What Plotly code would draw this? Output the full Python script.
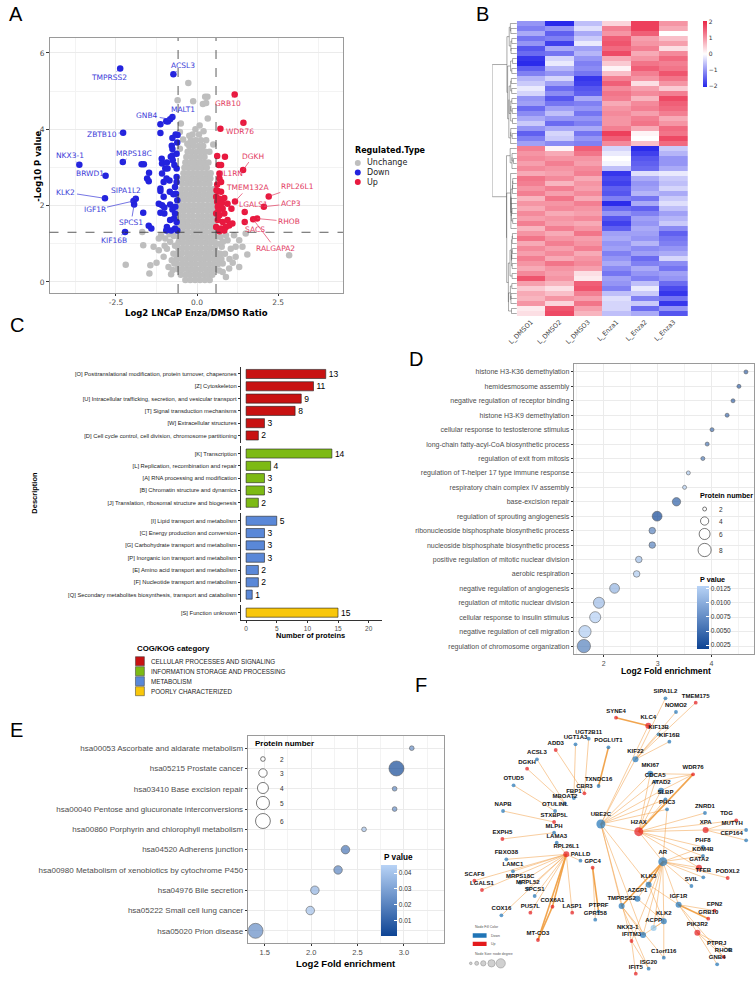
import numpy as np
import plotly.graph_objects as go

W, H = 756, 981
def X(px): return px / W
def Y(py): return 1 - py / H

ARIAL = "Liberation Sans, Arial, Helvetica, sans-serif"
DJV = "DejaVu Sans, sans-serif"
TICK = "#4D4D4D"

# ======================= A: volcano data =======================
gray_rows = [
    (0.05, [-0.36, -0.21, -0.06, 0.09, 0.24, 0.39]),
    (0.19, [-0.50, -0.35, -0.23, -0.08, 0.05, 0.21, 0.33, 0.47]),
    (0.33, [-0.59, -0.45, -0.29, -0.17, -0.03, 0.12, 0.27, 0.41, 0.55]),
    (0.47, [-0.61, -0.46, -0.33, -0.18, -0.05, 0.11, 0.23, 0.38, 0.52, 0.65]),
    (0.61, [-0.63, -0.49, -0.34, -0.21, -0.06, 0.08, 0.23, 0.36, 0.51, 0.64]),
    (0.75, [-0.60, -0.47, -0.31, -0.19, -0.04, 0.10, 0.25, 0.38, 0.53, 0.63]),
    (0.89, [-0.58, -0.44, -0.31, -0.16, -0.02, 0.12, 0.27, 0.40, 0.55]),
    (1.03, [-0.57, -0.43, -0.28, -0.15, -0.01, 0.14, 0.27, 0.42, 0.55]),
    (1.17, [-0.56, -0.42, -0.29, -0.14, 0.01, 0.14, 0.29, 0.42, 0.56]),
    (1.31, [-0.55, -0.41, -0.28, -0.13, 0.00, 0.15, 0.28, 0.43, 0.56]),
    (1.45, [-0.55, -0.42, -0.27, -0.14, 0.02, 0.15, 0.30, 0.43, 0.55]),
    (1.59, [-0.54, -0.40, -0.27, -0.12, 0.01, 0.16, 0.29, 0.44, 0.55]),
    (1.73, [-0.54, -0.41, -0.26, -0.13, 0.03, 0.16, 0.31, 0.44, 0.54]),
    (1.87, [-0.53, -0.40, -0.25, -0.12, 0.02, 0.17, 0.30, 0.45, 0.54]),
    (2.01, [-0.53, -0.39, -0.26, -0.11, 0.04, 0.17, 0.32, 0.45, 0.53]),
    (2.15, [-0.51, -0.38, -0.23, -0.10, 0.05, 0.18, 0.33, 0.46]),
    (2.29, [-0.50, -0.35, -0.22, -0.07, 0.06, 0.21, 0.34, 0.48]),
    (2.43, [-0.48, -0.34, -0.19, -0.06, 0.09, 0.22, 0.37, 0.50]),
    (2.57, [-0.46, -0.31, -0.18, -0.03, 0.10, 0.25, 0.38]),
    (2.71, [-0.44, -0.30, -0.15, -0.02, 0.13, 0.26, 0.41]),
    (2.85, [-0.42, -0.27, -0.14, 0.01, 0.14, 0.29, 0.42]),
    (2.99, [-0.39, -0.26, -0.11, 0.02, 0.17, 0.30]),
    (3.13, [-0.36, -0.21, -0.08, 0.07, 0.20, 0.35]),
    (3.27, [-0.33, -0.18, -0.05, 0.10, 0.23]),
    (3.41, [-0.29, -0.16, -0.01, 0.12, 0.25]),
    (3.56, [-0.24, -0.10, 0.05, 0.19]),
    (3.71, [-0.19, -0.04, 0.12]),
    (3.86, [-0.14, 0.06]),
]
gray_extra_x = [-0.27, 0.25, 0.32, -0.12, 0.18, 0.28, -0.60, 0.33, 0.08, -0.50, -0.24, -0.43, -0.30, -0.12,
                0.28, 0.13, -0.53, 0.38, 0.50, -0.53, -0.05, 0.20,
                -2.20, -1.44, -1.47, -1.66, -1.69, -1.34, -1.18, -1.11, -0.98, -0.83, -0.93, -0.73, -0.78,
                -1.03, -0.70, -0.75, -0.88, -1.18, -0.72, -0.85, -1.00, -0.68, -0.80, -1.25,
                0.89, 1.19, 1.55, 2.84, 1.14, 1.30, 0.79, 0.72, 1.30, 0.99, 1.50, 1.19, 0.76, 0.86, 0.94,
                0.72, 1.04, 0.79, 0.89, 1.40, 0.75, 0.70, 1.00, 0.80, 1.10, 0.68]
gray_extra_y = [5.21, 4.85, 4.85, 4.73, 4.66, 4.69, 4.76, 4.28, 4.10, 4.15, 3.83, 3.73, 3.62, 3.62,
                3.71, 3.54, 3.49, 3.41, 3.60, 3.93, 4.00, 3.95,
                0.45, 0.44, 0.22, 0.96, 1.31, 0.92, 0.83, 1.22, 1.14, 1.05, 0.87, 0.74, 0.57,
                0.66, 0.48, 0.31, 0.39, 1.14, 1.20, 1.25, 0.95, 0.95, 0.20, 0.50,
                0.13, 0.66, 0.72, 0.70, 1.22, 1.09, 0.48, 0.74, 0.39, 0.35, 1.27, 0.92, 0.92, 0.74, 1.09,
                1.18, 0.87, 0.26, 1.22, 0.92, 0.60, 1.00, 0.60, 1.05, 0.50, 0.30]
down_x = [-2.37, -0.73, -0.83, -0.76, -2.28, -3.63, -2.82, -2.29, -2.84, -1.89, -1.96, -1.94, -2.22,
          -1.71, -1.64, -1.54, -1.49, -1.48, -1.13, -1.13, -0.95, -0.76, -0.66, -0.60, -0.61, -0.78,
          -0.76, -1.09, -1.08, -0.93, -0.81, -0.76, -0.98, -0.91, -1.08, -0.94, -0.85, -0.70, -0.63,
          -0.63, -1.13, -1.13, -1.03, -0.84, -0.73, -0.68, -0.63, -1.18, -1.08, -1.01, -1.13, -1.01,
          -0.83, -0.76, -0.68, -0.83, -0.71, -0.63, -0.93, -0.95, -0.80, -0.68, -0.61, -1.66, -1.49,
          -1.41, -0.65, -0.67, -0.61, -0.63, -0.75, -1.03, -0.90]
down_y = [5.59, 5.44, 4.26, 4.32, 3.91, 3.07, 2.78, 3.14, 2.19, 2.18, 2.12, 2.03, 1.31,
          3.08, 3.08, 2.71, 2.64, 2.86, 4.13, 3.90, 4.21, 3.77, 3.86, 3.85, 3.65, 3.57,
          3.48, 3.23, 3.10, 3.13, 3.28, 3.31, 2.97, 2.97, 2.84, 2.71, 2.66, 3.06, 2.97,
          2.75, 2.45, 2.38, 2.23, 2.36, 2.30, 2.49, 2.62, 2.05, 2.01, 1.95, 1.81, 1.79,
          2.03, 1.90, 1.79, 1.62, 1.66, 1.57, 1.44, 1.35, 1.35, 1.40, 1.35, 1.81, 1.47,
          1.40, 2.31, 1.97, 2.14, 3.36, 3.19, 2.62, 4.20]
up_x = [1.16, 1.43, 1.42, 0.69, 1.17, 2.21, 1.47, 2.06, 1.85, 1.47, 1.73,
        0.72, 0.62, 0.86, 0.67, 0.74, 0.69, 0.74, 0.60, 0.64, 0.74, 0.59, 0.69, 0.84, 0.62, 0.77,
        0.64, 0.79, 0.94, 1.06, 0.59, 0.69, 0.84, 0.64, 0.79, 0.94, 0.59, 0.74, 0.89, 0.84, 0.69,
        0.99, 1.09, 0.62, 0.66]
up_y = [4.91, 4.17, 2.93, 2.71, 2.11, 2.24, 1.83, 1.97, 1.66, 1.57, 1.64,
        4.01, 3.30, 3.28, 3.06, 3.06, 2.84, 2.62, 2.40, 2.38, 2.36, 2.23, 2.18, 2.20, 2.10, 2.07,
        1.97, 1.92, 2.05, 1.92, 1.79, 1.75, 1.79, 1.62, 1.57, 1.62, 1.44, 1.40, 1.44, 1.35, 1.33,
        1.48, 1.53, 2.55, 1.88]
lab_down = ["TMPRSS2", "ACSL3", "GNB4", "MALT1", "ZBTB10", "NKX3-1", "BRWD1", "MRPS18C",
            "KLK2", "SIPA1L2", "IGF1R", "SPCS1", "KIF16B"]
lab_up = ["GRB10", "WDR76", "DGKH", "IL1RN", "TMEM132A", "RPL26L1", "LGALS1", "ACP3",
          "RHOB", "SACS", "RALGAPA2"]
# label offsets (px) for the repelled labels: style, not data
lab_off = {"TMPRSS2": (-11, 9), "ACSL3": (10, -9), "GNB4": (-23, -4), "MALT1": (11, -8),
           "ZBTB10": (-21, 2), "NKX3-1": (-9, -9), "BRWD1": (-16, -2), "MRPS18C": (11, -9),
           "KLK2": (-39, -6), "SIPA1L2": (-10, -8), "IGF1R": (-39, 9), "SPCS1": (-3, 18),
           "KIF16B": (-11, 9), "GRB10": (-7, 9), "WDR76": (-3, 9), "DGKH": (10, -14),
           "IL1RN": (13, -5), "TMEM132A": (13, -14), "RPL26L1": (29, -10), "LGALS1": (9, -8),
           "ACP3": (27, -3), "RHOB": (32, 3), "SACS": (10, 8), "RALGAPA2": (22, 29)}

# ======================= B: heatmap data =======================
heat_cols = ["L_DMSO1", "L_DMSO2", "L_DMSO3", "L_Enza1", "L_Enza2", "L_Enza3"]
dmso1 = [-1.0,-1.2,-0.8,-1.3,-1.0,-1.6,-1.4,-1.9,-2.0,-1.5,-1.2,-0.7,-0.5,-0.2,-0.4,-1.0,-0.9,-1.4,-1.1,-0.8,-0.5,-1.0,-1.5,-1.2,-0.9,
         1.2,1.0,1.1,0.9,1.1,0.8,1.3,1.2,1.0,1.2,0.7,1.0,0.8,1.1,0.9,1.2,0.7,1.0,1.3,0.8,1.1,0.9,1.2,1.0,0.8,1.1,1.6,0.9,0.5,0.8,0.7,1.0,0.2,0.3]
dmso2 = [-2.0,-1.0,-1.5,-1.2,-1.8,-0.8,-1.3,-0.4,-0.2,-0.7,-1.0,-0.4,-0.9,-1.4,-1.1,-1.6,-1.3,-0.9,-0.6,-1.0,-1.4,-0.8,-0.4,-0.5,-1.1,
         0.1,0.8,1.0,1.2,1.0,0.9,1.1,0.7,1.2,0.9,1.3,1.0,1.1,0.8,1.0,0.9,1.2,0.8,1.0,1.2,0.9,1.1,0.8,1.3,1.0,0.9,1.0,0.7,0.3,0.6,1.0,0.4,1.6,1.7]
dmso3 = [-0.6,-0.3,-0.8,-0.5,-0.2,-0.9,-0.7,-1.0,-1.2,-1.1,-1.3,-1.9,-1.8,-1.6,-1.5,-0.8,-1.2,-1.0,-1.3,-1.0,-1.2,-0.8,-1.3,-1.0,-1.2,
         1.5,1.3,1.0,0.9,1.1,1.2,0.8,1.0,0.9,1.1,0.8,1.2,1.0,0.9,1.1,0.8,1.0,1.3,0.9,1.0,1.2,0.8,1.0,1.1,0.9,0.3,0.2,1.5,1.6,1.2,0.9,1.3,0.9,0.7]
enza1 = [0.4,1.2,1.0,1.5,1.6,1.4,1.7,0.8,0.5,0.1,0.6,1.2,1.5,1.1,1.3,1.2,0.8,1.0,1.1,1.0,1.0,1.2,1.8,1.5,1.1,
         -0.4,-0.2,0.0,-0.1,-0.6,-1.9,-1.7,-1.8,-1.5,-1.6,-1.2,-2.0,-1.4,-1.0,-1.6,-1.8,-1.5,-0.9,-0.8,-1.0,-0.9,-1.2,-1.0,-0.8,-1.1,-1.3,-0.9,-1.0,-1.2,-0.6,-0.3,-0.4,-0.4,-0.6]
enza2 = [1.8,1.8,1.5,0.9,1.0,1.2,0.8,1.0,1.3,1.5,1.2,1.0,0.3,0.9,1.1,0.7,1.1,1.2,0.9,1.2,1.3,0.8,0.1,0.0,0.6,
         -2.0,-1.8,-1.6,-1.5,-1.4,-0.3,-0.8,-1.0,-0.9,-0.7,-1.3,-0.8,-1.5,-1.2,-0.9,-1.0,-0.8,-0.9,-1.0,-0.7,-1.1,-0.9,-1.4,-1.2,-0.8,-1.0,-1.2,-0.6,-0.2,-0.5,-1.2,-0.5,-1.4,-0.8]
enza3 = [1.0,0.8,0.0,0.6,0.9,0.3,1.1,1.4,1.2,1.3,1.6,1.3,1.0,0.5,1.2,1.7,1.5,1.4,1.2,0.8,1.0,1.4,1.3,1.7,1.4,
         -0.5,-0.7,-1.0,-1.0,-0.8,-0.2,-0.5,-0.6,-0.4,-0.8,-0.5,-0.3,-0.6,-0.9,-0.7,-0.5,-1.1,-1.5,-1.3,-1.2,-1.0,-0.8,-0.4,-1.1,-1.3,-0.9,-1.0,-1.4,-1.7,-1.9,-1.3,-1.9,-1.0,-1.6]

# ======================= C: COG/KOG data =======================
cog_cell_lab = ["[O] Posttranslational modification, protein turnover, chaperones", "[Z] Cytoskeleton",
                "[U] Intracellular trafficking, secretion, and vesicular transport",
                "[T] Signal transduction mechanisms", "[W] Extracellular structures",
                "[D] Cell cycle control, cell division, chromosome partitioning"]
cog_cell_val = [13, 11, 9, 8, 3, 2]
cog_info_lab = ["[K] Transcription", "[L] Replication, recombination and repair",
                "[A] RNA processing and modification", "[B] Chromatin structure and dynamics",
                "[J] Translation, ribosomal structure and biogenesis"]
cog_info_val = [14, 4, 3, 3, 2]
cog_met_lab = ["[I] Lipid transport and metabolism", "[C] Energy production and conversion",
               "[G] Carbohydrate transport and metabolism", "[P] Inorganic ion transport and metabolism",
               "[E] Amino acid transport and metabolism", "[F] Nucleotide transport and metabolism",
               "[Q] Secondary metabolites biosynthesis, transport and catabolism"]
cog_met_val = [5, 3, 3, 3, 2, 2, 1]
cog_poor_lab = ["[S] Function unknown"]
cog_poor_val = [15]
cog_classes = ["CELLULAR PROCESSES AND SIGNALING", "INFORMATION STORAGE AND PROCESSING",
               "METABOLISM", "POORLY CHARACTERIZED"]

# ======================= D: GO enrichment =======================
d_terms = ["histone H3-K36 demethylation", "hemidesmosome assembly",
           "negative regulation of receptor binding", "histone H3-K9 demethylation",
           "cellular response to testosterone stimulus", "long-chain fatty-acyl-CoA biosynthetic process",
           "regulation of exit from mitosis", "regulation of T-helper 17 type immune response",
           "respiratory chain complex IV assembly", "base-excision repair",
           "regulation of sprouting angiogenesis", "ribonucleoside bisphosphate biosynthetic process",
           "nucleoside bisphosphate biosynthetic process", "positive regulation of mitotic nuclear division",
           "aerobic respiration", "negative regulation of angiogenesis",
           "regulation of mitotic nuclear division", "cellular response to insulin stimulus",
           "negative regulation of cell migration", "regulation of chromosome organization"]
d_fold = [4.64, 4.51, 4.40, 4.29, 4.01, 3.92, 3.84, 3.57, 3.50, 3.35,
          2.99, 2.90, 2.90, 2.65, 2.61, 2.20, 1.91, 1.84, 1.65, 1.63]
d_count = [2, 2, 2, 2, 2, 2, 2, 2, 2, 4, 5, 3, 3, 3, 3, 5, 6, 6, 7, 8]
d_p = [0.0045, 0.0045, 0.0045, 0.0050, 0.0055, 0.0060, 0.0065, 0.0125, 0.0130, 0.0040,
       0.0021, 0.0068, 0.0068, 0.0115, 0.0125, 0.0105, 0.0112, 0.0128, 0.0125, 0.0065]
d_size_legend = [2, 4, 6, 8]
d_p_ticks = [0.0025, 0.0050, 0.0075, 0.0100, 0.0125]

# ======================= E: KEGG enrichment =======================
e_terms = ["hsa00053 Ascorbate and aldarate metabolism", "hsa05215 Prostate cancer",
           "hsa03410 Base excision repair", "hsa00040 Pentose and glucuronate interconversions",
           "hsa00860 Porphyrin and chlorophyll metabolism", "hsa04520 Adherens junction",
           "hsa00980 Metabolism of xenobiotics by cytochrome P450", "hsa04976 Bile secretion",
           "hsa05222 Small cell lung cancer", "hsa05020 Prion disease"]
e_fold = [3.085, 2.92, 2.90, 2.90, 2.57, 2.37, 2.29, 2.04, 1.99, 1.40]
e_count = [2, 6, 2, 2, 2, 3, 3, 3, 3, 6]
e_p = [0.024, 0.002, 0.022, 0.024, 0.040, 0.016, 0.021, 0.035, 0.040, 0.023]
e_size_legend = [2, 3, 4, 5, 6]
e_p_ticks = [0.01, 0.02, 0.03, 0.04]

# ======================= F: network =======================
net_names = ["SIPA1L2","TMEM175","NOMO2","SYNE4","KLC4","KIF13B","KIF16B","UGT2B11","UGT1A3","ADD3",
             "POGLUT1","KIF22","ACSL3","DGKH","MKI67","CDCA5","WDR76","TXNDC16","CBR3","FBP1",
             "MBOAT2","OTUD5","ATAD2","SLBP","PHC3","OTULINL","NAPB","STXBP5L","UBE2C","H2AX",
             "ZNRD1","TDG","MUTYH","XPA","CEP164","MLPH","EXPH5","LAMA3","PHF8","KDM4B",
             "RPL26L1","FBXO38","PALLD","GPC4","AR","GATA2","PODXL2","TFEB","SCAF8","LAMC1",
             "MRPS18C","SVIL","MRPL52","KLK3","LGALS1","SPCS1","AZGP1","IGF1R","EPN2","GRB10",
             "TMPRSS2","COX6A1","PUS7L","LASP1","PTPRF","COX16","GPR158","KLK2","ACPP","NKX3-1",
             "PIK3R2","MT-CO3","IFITM3","PTPRJ","RHOB","GNB4","C1orf116","ISG20","IFIT5"]
net_x = [673,765,705,523,621,652,685,440,400,340,
         500,582,283,253,627,642,757,470,427,395,
         368,212,660,673,678,338,180,335,477,592,
         793,888,918,795,918,335,178,343,787,787,
         372,190,415,452,665,775,862,788,93,210,
         232,752,255,622,116,276,588,713,822,803,
         540,330,263,390,470,175,460,668,637,605,
         770,286,570,868,850,830,668,622,583]
net_y = [175,188,216,233,257,283,305,296,313,330,
         322,358,358,386,401,425,403,438,460,474,
         490,436,452,478,508,513,513,546,552,575,
         519,541,570,570,601,578,597,608,621,648,
         643,658,662,683,665,683,714,712,722,694,
         728,738,746,734,750,768,776,794,812,836,
         798,800,818,818,815,826,839,844,864,885,
         878,900,903,929,951,973,953,986,1001]
net_reg = ["D","U","D","U","U","D","D","D","D","U",
           "D","D","D","U","D","D","U","D","U","D",
           "D","D","D","D","D","D","D","U","D","U",
           "D","U","D","U","D","D","U","D","D","D",
           "U","D","D","U","D","U","U","D","U","D",
           "D","D","D","D","U","D","D","D","U","U",
           "D","U","U","U","D","D","D","D","L","D",
           "U","U","U","D","U","D","D","D","U"]
net_rank = [1,1,1,1,2,1,1,1,1,1,
            1,2,1,1,2,1,1,1,1,1,
            1,1,2,1,1,1,1,1,3,3,
            1,1,1,2,1,1,1,1,1,1,
            2,1,1,1,3,2,1,1,1,1,
            1,1,1,2,1,1,2,2,1,1,
            2,1,1,1,1,1,1,2,2,2,
            2,1,1,1,1,1,1,1,1]
net_edges = [("TMEM175","KIF22"),("SIPA1L2","KIF22"),("NOMO2","KIF22"),("KIF16B","KIF22"),("KIF13B","KIF22"),
             ("KLC4","UBE2C"),("KIF22","UBE2C"),("MKI67","UBE2C"),("CDCA5","UBE2C"),("ATAD2","UBE2C"),
             ("SLBP","UBE2C"),("PHC3","UBE2C"),("MKI67","H2AX"),("CDCA5","H2AX"),("ATAD2","H2AX"),
             ("SLBP","H2AX"),("PHC3","AR"),("MKI67","WDR76"),("CDCA5","WDR76"),("ATAD2","WDR76"),
             ("H2AX","UBE2C"),("H2AX","ZNRD1"),("H2AX","XPA"),("H2AX","PHF8"),("H2AX","KDM4B"),
             ("H2AX","AR"),("H2AX","GATA2"),("H2AX","TDG"),("XPA","TDG"),("XPA","MUTYH"),("XPA","CEP164"),
             ("AR","KDM4B"),("AR","GATA2"),("AR","TFEB"),("AR","SVIL"),("AR","PODXL2"),("AR","AZGP1"),
             ("AR","KLK2"),("AR","ACPP"),("AR","NKX3-1"),("AR","IGF1R"),("AR","IFITM3"),("AR","PHF8"),
             ("UBE2C","TMPRSS2"),("UBE2C","KLK3"),("UBE2C","IFITM3"),("UBE2C","NKX3-1"),
             ("KLK3","KLK2"),("KLK3","IGF1R"),("AZGP1","KLK2"),("TMPRSS2","C1orf116"),("TMPRSS2","NKX3-1"),
             ("TMPRSS2","ISG20"),("IFITM3","ISG20"),("IFITM3","IFIT5"),("IGF1R","EPN2"),("IGF1R","PIK3R2"),
             ("IGF1R","RHOB"),("PIK3R2","RHOB"),("PIK3R2","GNB4"),("PIK3R2","PTPRJ"),("KLK2","ACPP"),
             ("NKX3-1","KLK2"),("KLK2","C1orf116"),
             ("RPL26L1","SCAF8"),("RPL26L1","LAMC1"),("RPL26L1","MRPS18C"),("RPL26L1","MRPL52"),
             ("RPL26L1","SPCS1"),("RPL26L1","COX16"),("RPL26L1","PUS7L"),("RPL26L1","LASP1"),
             ("RPL26L1","FBXO38"),("RPL26L1","LAMA3"),("RPL26L1","LGALS1"),("RPL26L1","PALLD"),
             ("GPC4","GPR158"),("EXPH5","MLPH"),("NAPB","STXBP5L"),("OTUD5","OTULINL"),("DGKH","MBOAT2"),
             ("ACSL3","MBOAT2"),("ADD3","CBR3"),("UGT1A3","FBP1"),("UGT2B11","CBR3")]
net_edges_strong = [("KLC4","SYNE4"),("H2AX","WDR76"),("AR","KLK3"),("AR","TMPRSS2"),("IGF1R","GRB10"),
                    ("RPL26L1","COX6A1"),("RPL26L1","MT-CO3"),("COX6A1","MT-CO3"),("GPC4","PTPRF"),
                    ("POGLUT1","TXNDC16")]
# label placement exceptions (style)
net_label_pos = {"MUTYH": "top left", "CEP164": "top left", "TDG": "top left", "PTPRJ": "top left",
                 "NKX3-1": "top left"}

# ======================= helpers =======================
def txt(x, y, s, size, color="black", bold=False, xanchor="left", family=ARIAL, angle=0, yanchor="middle"):
    return dict(x=X(x), y=Y(y), xref="paper", yref="paper", text=("<b>%s</b>" % s) if bold else s,
                showarrow=False, xanchor=xanchor, yanchor=yanchor, textangle=angle,
                font=dict(size=size, color=color, family=family))

def circ(cx, cy, d, fill="white", line="#222", lw=0.6):
    return dict(type="circle", xref="paper", yref="paper", x0=X(cx - d / 2), x1=X(cx + d / 2),
                y0=Y(cy + d / 2), y1=Y(cy - d / 2), fillcolor=fill, line=dict(color=line, width=lw),
                layer="above")

def rect(x0, y0, x1, y1, fill, line="#333", lw=0.5):
    return dict(type="rect", xref="paper", yref="paper", x0=X(x0), x1=X(x1), y0=Y(y1), y1=Y(y0),
                fillcolor=fill, line=dict(color=line, width=lw), layer="above")

def dsize(n): return (16 + 26.8 * (n - 2)) ** 0.5
def esize(n): return (22 + 50.75 * (n - 2)) ** 0.5

BLUE_A, RED_A, GRAY_A = "#2323DE", "#E8193F", "#BEBEBE"
PCS = [[0, "rgb(14,68,148)"], [1, "rgb(184,211,246)"]]

fig = go.Figure()
shapes, annos = [], []

# ======================= A =======================
gx = [x for yv, xs in gray_rows for x in xs] + gray_extra_x
gy = [yv for yv, xs in gray_rows for x in xs] + gray_extra_y
fig.add_trace(go.Scatter(x=gx, y=gy, mode="markers", xaxis="x", yaxis="y", name="Unchange",
                         marker=dict(size=6.5, color=GRAY_A), showlegend=False))
fig.add_trace(go.Scatter(x=down_x, y=down_y, mode="markers", xaxis="x", yaxis="y", name="Down",
                         marker=dict(size=6.5, color=BLUE_A), showlegend=False))
fig.add_trace(go.Scatter(x=up_x, y=up_y, mode="markers", xaxis="x", yaxis="y", name="Up",
                         marker=dict(size=6.5, color=RED_A), showlegend=False))
for names, xs, ys, col in [(lab_down, down_x, down_y, "#3B3BD8"), (lab_up, up_x, up_y, "#E2395F")]:
    for i, nm in enumerate(names):
        dx, dy = lab_off[nm]
        annos.append(dict(x=xs[i], y=ys[i], xref="x", yref="y", text=nm, showarrow=True, arrowhead=0,
                          arrowwidth=0.7, arrowcolor=col, ax=dx, ay=dy, standoff=0,
                          font=dict(size=7.5, color=col, family=DJV)))
for xv in (-0.585, 0.585):
    shapes.append(dict(type="line", xref="x", yref="y domain", x0=xv, x1=xv, y0=0, y1=1,
                       line=dict(color="#333", width=0.8, dash="dash")))
shapes.append(dict(type="line", xref="x domain", yref="y", x0=0, x1=1, y0=1.301, y1=1.301,
                   line=dict(color="#333", width=0.8, dash="dash")))
annos.append(txt(29, 166, "-Log10 P value", 8.5, bold=True, xanchor="center", family=DJV, angle=-90))
annos.append(txt(190, 312.5, "Log2 LNCaP Enza/DMSO Ratio", 8.5, bold=True, xanchor="center", family=DJV))
annos.append(txt(348, 150, "Regulated.Type", 8, bold=True, family=DJV))
for yy, col, lab in [(163, GRAY_A, "Unchange"), (172.5, BLUE_A, "Down"), (182, RED_A, "Up")]:
    shapes.append(circ(353, yy, 6, fill=col, line=col, lw=0))
    annos.append(txt(360, yy, lab, 8, color="#222", family=DJV))

# ======================= B =======================
M = np.array(list(zip(dmso1, dmso2, dmso3, enza1, enza2, enza3)), dtype=float)
nrow = M.shape[0]
fig.add_trace(go.Heatmap(z=M.tolist(), x=heat_cols, y=list(range(nrow)), xaxis="x2", yaxis="y2",
                         colorscale=[[0, "#2626EA"], [0.5, "#FFFFFF"], [1, "#EA2545"]], zmin=-2.05, zmax=2.05,
                         colorbar=dict(x=X(702), xanchor="left", y=Y(21), yanchor="top", len=66,
                                       lenmode="pixels", thickness=4, thicknessmode="pixels", xpad=0, ypad=0,
                                       outlinewidth=0, tickvals=[-2, -1, 0, 1, 2], ticks="",
                                       tickfont=dict(size=6, color="#333", family=DJV))))
merges = []
def build(a, b):
    if b - a == 1:
        return float(a), 0.0
    best, bk = -1.0, a + 1
    for k in range(a + 1, b):
        m1 = M[a:k].mean(0); m2 = M[k:b].mean(0)
        n1, n2 = k - a, b - k
        v = n1 * n2 / (n1 + n2) * ((m1 - m2) ** 2).sum()
        if v > best:
            best, bk = v, k
    p1, h1 = build(a, bk)
    p2, h2 = build(bk, b)
    h = max(np.sqrt(2 * best), h1 * 1.05, h2 * 1.05, 0.05)
    merges.append((p1, h1, p2, h2, h))
    return (p1 + p2) / 2, h
_, hroot = build(0, nrow)
f = lambda h: (h / hroot) ** 0.45
dx_, dy_ = [], []
for p1, h1, p2, h2, h in merges:
    dx_ += [f(h1), f(h), f(h), f(h2), None]
    dy_ += [p1, p1, p2, p2, None]
fig.add_trace(go.Scatter(x=dx_, y=dy_, mode="lines", xaxis="x3", yaxis="y3",
                         line=dict(color="#555", width=0.5), showlegend=False, hoverinfo="skip"))

# ======================= C =======================
s = 12.3
g_top = [366.6]
g_sizes = [len(cog_cell_lab), len(cog_info_lab), len(cog_met_lab), len(cog_poor_lab)]
for n in g_sizes[:-1]:
    g_top.append(g_top[-1] + (n + 0.2) * s + 3.3)
cog_cols = ["#C81212", "#7DBA14", "#5A88D8", "#F9C70A"]
groups = [(cog_cell_lab, cog_cell_val), (cog_info_lab, cog_info_val), (cog_met_lab, cog_met_val),
          (cog_poor_lab, cog_poor_val)]
c_axes = {}
for gi, (labs, vals) in enumerate(groups):
    ya = "y%d" % (4 + gi)
    fig.add_trace(go.Bar(x=vals, y=labs, orientation="h", xaxis="x4", yaxis=ya, width=0.74,
                         marker=dict(color=cog_cols[gi], line=dict(color="#222", width=0.6)),
                         text=[str(v) for v in vals], textposition="outside", cliponaxis=False,
                         constraintext="none", textfont=dict(size=8.5, color="black", family=ARIAL),
                         showlegend=False))
    n = len(labs)
    top = g_top[gi]; bot = top + (n + 0.2) * s
    c_axes["yaxis%d" % (4 + gi)] = dict(domain=[Y(bot), Y(top)], anchor="x4", type="category",
                                        categoryorder="array", categoryarray=labs,
                                        range=[n - 1 + 0.6, -0.6], showline=True, linecolor="#333",
                                        linewidth=0.8, ticks="outside", ticklen=2.5, tickcolor="#333",
                                        tickfont=dict(size=5.8, color="#222", family=ARIAL),
                                        showgrid=False, zeroline=False, fixedrange=True)
annos.append(txt(25, 493, "Description", 7.5, bold=True, xanchor="center", angle=-90))
annos.append(txt(305, 635, "Number of proteins", 7.5, bold=True, xanchor="center"))
annos.append(txt(128, 648, "COG/KOG category", 7.8, bold=True))
for i, lab in enumerate(cog_classes):
    y0 = 656.7 + i * 10
    shapes.append(rect(128, y0, 137, y0 + 9, cog_cols[i]))
    annos.append(txt(142, y0 + 4.5, lab, 6.3, color="#222"))

# ======================= D =======================
fig.add_trace(go.Scatter(x=d_fold, y=d_terms, mode="markers", xaxis="x8", yaxis="y8", showlegend=False,
                         marker=dict(size=[dsize(n) for n in d_count], color=d_p, colorscale=PCS,
                                     cmin=0.0018, cmax=0.0130, line=dict(color="#222", width=0.6),
                                     colorbar=dict(x=X(696), xanchor="left", y=Y(586), yanchor="top",
                                                   len=63, lenmode="pixels", thickness=12, xpad=0, ypad=0,
                                                   outlinewidth=0, tickvals=d_p_ticks,
                                                   ticktext=["%.4f" % v for v in d_p_ticks],
                                                   ticks="inside", tickcolor="white", ticklen=2.5,
                                                   tickfont=dict(size=6.5, color="#333", family=ARIAL)))))
annos.append(txt(697, 495, "Protein number", 7.2, bold=True))
for i, n in enumerate(d_size_legend):
    cy = [509, 521, 534, 550][i]
    shapes.append(circ(704, cy, dsize(n)))
    annos.append(txt(717, cy, str(n), 6.5, color="#333"))
annos.append(txt(697, 579, "P value", 7.2, bold=True))
annos.append(txt(665, 671, "Log2 Fold enrichment", 8.6, bold=True, xanchor="center"))

# ======================= E =======================
fig.add_trace(go.Scatter(x=e_fold, y=e_terms, mode="markers", xaxis="x9", yaxis="y9", showlegend=False,
                         marker=dict(size=[esize(n) for n in e_count], color=e_p, colorscale=PCS,
                                     cmin=0.0006, cmax=0.045, line=dict(color="#222", width=0.6),
                                     colorbar=dict(x=X(376), xanchor="left", y=Y(865), yanchor="top",
                                                   len=71, lenmode="pixels", thickness=16, xpad=0, ypad=0,
                                                   outlinewidth=0, tickvals=e_p_ticks,
                                                   ticktext=["%.2f" % v for v in e_p_ticks],
                                                   ticks="inside", tickcolor="white", ticklen=3,
                                                   tickfont=dict(size=6.5, color="#333", family=ARIAL)))))
annos.append(txt(247, 743, "Protein number", 8, bold=True))
for i, n in enumerate(e_size_legend):
    cy = [759, 773, 788, 803, 821][i]
    shapes.append(circ(257, cy, esize(n)))
    annos.append(txt(272, cy, str(n), 6.5, color="#333"))
annos.append(txt(377, 857, "P value", 8.2, bold=True))
annos.append(txt(341, 963, "Log2 Fold enrichment", 9.5, bold=True, xanchor="center"))

# ======================= F =======================
idx = {n: i for i, n in enumerate(net_names)}
for edges, wdt, col in [(net_edges, 0.7, "rgba(243,165,82,0.8)"), (net_edges_strong, 1.6, "rgba(240,155,60,0.9)")]:
    ex, ey = [], []
    for a, b in edges:
        ex += [net_x[idx[a]], net_x[idx[b]], None]
        ey += [net_y[idx[a]], net_y[idx[b]], None]
    fig.add_trace(go.Scatter(x=ex, y=ey, mode="lines", xaxis="x10", yaxis="y10",
                             line=dict(color=col, width=wdt), showlegend=False, hoverinfo="skip"))
reg_col = {"D": "#1F74B6", "U": "#E31A1C", "L": "#8CC3EA"}
rank_size = {1: 3.8, 2: 6.0, 3: 9.0}
fig.add_trace(go.Scatter(x=net_x, y=net_y, mode="markers+text", xaxis="x10", yaxis="y10",
                         text=["<b>%s</b>" % n for n in net_names],
                         textposition=[net_label_pos.get(n, "top center") for n in net_names],
                         textfont=dict(size=6, color="#111", family=ARIAL),
                         marker=dict(size=[rank_size[r] for r in net_rank], color=[reg_col[r] for r in net_reg],
                                     line=dict(width=0)), showlegend=False, cliponaxis=False))
# network legend (tiny)
shapes.append(dict(type="rect", xref="x10", yref="y10", x0=88, x1=130, y0=880, y1=893,
                   fillcolor="#1F74B6", line=dict(width=0)))
shapes.append(dict(type="rect", xref="x10", yref="y10", x0=88, x1=130, y0=905, y1=918,
                   fillcolor="#E31A1C", line=dict(width=0)))
annos.append(dict(x=88, y=862, xref="x10", yref="y10", text="Node Fill Color", showarrow=False,
                  xanchor="left", font=dict(size=3.5, color="#555", family=ARIAL)))
annos.append(dict(x=138, y=887, xref="x10", yref="y10", text="Down", showarrow=False,
                  xanchor="left", font=dict(size=3.5, color="#555", family=ARIAL)))
annos.append(dict(x=138, y=911, xref="x10", yref="y10", text="Up", showarrow=False,
                  xanchor="left", font=dict(size=3.5, color="#555", family=ARIAL)))
annos.append(dict(x=88, y=943, xref="x10", yref="y10", text="Node Size: node degree", showarrow=False,
                  xanchor="left", font=dict(size=3.5, color="#555", family=ARIAL)))
for cx, r in [(82, 4), (100, 6), (120, 8), (145, 11), (173, 14)]:
    shapes.append(dict(type="circle", xref="x10", yref="y10", x0=cx - r, x1=cx + r, y0=970 - r, y1=970 + r,
                       fillcolor="#D0D0D0", line=dict(color="#888", width=0.5)))

# panel letters
for L, x, y in [("A", 7, 14), ("B", 479, 14), ("C", 8, 325), ("D", 412, 359), ("E", 8, 730), ("F", 417, 685)]:
    annos.append(txt(x, y, L, 20, xanchor="center", family=ARIAL))

# ======================= layout =======================
bw_common = dict(showline=True, mirror=True, linecolor="#9A9A9A", linewidth=0.8, zeroline=False,
                 ticks="outside", ticklen=2.5, tickcolor="#333", showgrid=True, gridcolor="#EBEBEB",
                 gridwidth=0.7, fixedrange=True)
layout = dict(
    width=W, height=H, autosize=False, margin=dict(l=0, r=0, t=0, b=0),
    paper_bgcolor="white", plot_bgcolor="rgba(0,0,0,0)", showlegend=False, font=dict(family=ARIAL),
    xaxis=dict(domain=[X(41), X(338)], anchor="y", range=[-4.55, 4.5], tickvals=[-2.5, 0, 2.5],
               ticktext=["-2.5", "0.0", "2.5"], tickfont=dict(size=7.5, color=TICK, family=DJV),
               minor=dict(tickvals=[-3.75, -1.25, 1.25, 3.75], showgrid=True, gridcolor="#F3F3F3", gridwidth=0.4),
               **bw_common),
    yaxis=dict(domain=[Y(293), Y(38)], anchor="x", range=[-0.29, 6.39], tickvals=[0, 2, 4, 6],
               tickfont=dict(size=7.5, color=TICK, family=DJV),
               minor=dict(tickvals=[1, 3, 5], showgrid=True, gridcolor="#F3F3F3", gridwidth=0.4),
               **bw_common),
    xaxis2=dict(domain=[X(514), X(687)], anchor="y2", tickangle=-45, showgrid=False, zeroline=False,
                ticks="", tickfont=dict(size=6.5, color="#444", family=DJV), fixedrange=True),
    yaxis2=dict(domain=[Y(316), Y(21)], anchor="x2", range=[nrow - 0.5, -0.5], showticklabels=False,
                showgrid=False, zeroline=False, ticks="", fixedrange=True),
    xaxis3=dict(domain=[X(489), X(514)], anchor="y3", range=[1.0, 0.0], visible=False, fixedrange=True),
    yaxis3=dict(domain=[Y(316), Y(21)], anchor="x3", range=[nrow - 0.5, -0.5], visible=False, fixedrange=True),
    xaxis4=dict(domain=[X(235), X(377)], anchor="y7", range=[-0.8, 22.1], tickvals=[0, 5, 10, 15, 20],
                tickfont=dict(size=6.5, color=TICK, family=ARIAL), ticks="outside", ticklen=2.5,
                tickcolor="#333", showline=True, linecolor="#333", linewidth=0.8, showgrid=False,
                zeroline=False, fixedrange=True),
    xaxis8=dict(domain=[X(572), X(754)], anchor="y8", range=[1.45, 4.79], tickvals=[2, 3, 4],
                tickfont=dict(size=7, color=TICK, family=ARIAL),
                minor=dict(tickvals=[1.5, 2.5, 3.5, 4.5], showgrid=True, gridcolor="#F3F3F3", gridwidth=0.4),
                **bw_common),
    yaxis8=dict(domain=[Y(654), Y(364)], anchor="x8", type="category", categoryorder="array",
                categoryarray=d_terms, range=[len(d_terms) - 1 + 0.55, -0.55],
                tickfont=dict(size=7, color=TICK, family=ARIAL), **bw_common),
    xaxis9=dict(domain=[X(242), X(440)], anchor="y9", range=[1.32, 3.43], tickvals=[1.5, 2.0, 2.5, 3.0],
                ticktext=["1.5", "2.0", "2.5", "3.0"], tickfont=dict(size=7.5, color=TICK, family=ARIAL),
                minor=dict(tickvals=[1.75, 2.25, 2.75, 3.25], showgrid=True, gridcolor="#F3F3F3", gridwidth=0.4),
                **bw_common),
    yaxis9=dict(domain=[Y(943), Y(736)], anchor="x9", type="category", categoryorder="array",
                categoryarray=e_terms, range=[len(e_terms) - 1 + 0.6, -0.6],
                tickfont=dict(size=8, color=TICK, family=ARIAL), **bw_common),
    xaxis10=dict(domain=[X(440), 1.0], anchor="y10", range=[0, 948], visible=False, fixedrange=True),
    yaxis10=dict(domain=[0.0, Y(640)], anchor="x10", range=[1023, 0], visible=False, fixedrange=True),
    shapes=shapes, annotations=annos,
)
layout.update(c_axes)
fig.update_layout(**layout)
fig.write_html("out.html", config={"displayModeBar": False},
               post_script="document.body.style.margin='0px';document.body.style.overflow='hidden';"
                           "document.documentElement.style.overflow='hidden';")
